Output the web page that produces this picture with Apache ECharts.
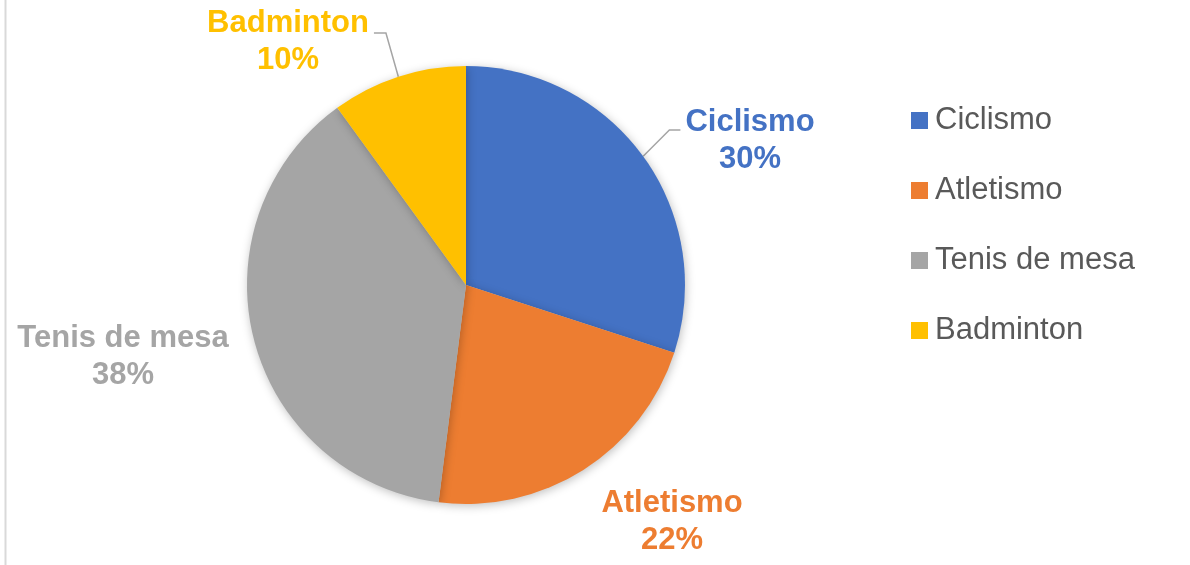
<!DOCTYPE html>
<html>
<head>
<meta charset="utf-8">
<script src="https://cdn.jsdelivr.net/npm/echarts@6/dist/echarts.min.js"></script>
<style>
  html, body { margin: 0; padding: 0; background: #fff; }
  #chart { width: 1190px; height: 565px; }
</style>
</head>
<body>
<div id="chart"></div>
<script>
// datos del gráfico
const sports = ['Ciclismo', 'Atletismo', 'Tenis de mesa', 'Badminton'];
const shares = [30, 22, 38, 10];
const colors = ['#4472C4', '#ED7D31', '#A5A5A5', '#FFC000'];

// dónde cae cada etiqueta (centro del bloque de texto) y si lleva línea guía
const labelSpots = [
  { x: 750, y: 141, line: true, side: 'right' },
  { x: 672, y: 522, line: false },
  { x: 123, y: 357, line: false },
  { x: 288, y: 42, line: true, side: 'left' }
];

const chart = echarts.init(document.getElementById('chart'));
chart.setOption({
  animation: false,
  color: colors,
  textStyle: { fontFamily: '"Liberation Sans", Arial, sans-serif' },
  graphic: [{
    type: 'line', silent: true,
    shape: { x1: 5.5, y1: 0, x2: 5.5, y2: 565 },
    style: { stroke: '#D9D9D9', lineWidth: 2 }
  }],
  legend: {
    orient: 'vertical', left: 906, top: 100,
    icon: 'rect', itemWidth: 17, itemHeight: 17, itemGap: 39,
    textStyle: { fontSize: 31, color: '#595959', lineHeight: 31, padding: [0, 0, 0, 2] },
    data: sports
  },
  series: [{
    type: 'pie',
    center: [466, 285],
    radius: 219,
    startAngle: 90,
    clockwise: true,
    avoidLabelOverlap: false,
    itemStyle: { shadowBlur: 10, shadowColor: 'rgba(0,0,0,0.25)', shadowOffsetX: 1, shadowOffsetY: 2 },
    label: {
      show: true, position: 'outside',
      fontSize: 31, fontWeight: 'bold', lineHeight: 37,
      color: 'inherit',
      formatter: p => p.name + '\n' + Math.round(p.percent) + '%'
    },
    labelLine: { show: true, lineStyle: { color: '#A5A5A5', width: 1.5 } },
    labelLayout: params => {
      const s = labelSpots[params.dataIndex];
      const out = { x: s.x, y: s.y, align: 'center', verticalAlign: 'middle' };
      if (s.line && params.labelLinePoints) {
        const p0 = params.labelLinePoints[0];
        const w = params.labelRect.width;
        if (s.side === 'right') {
          const ex = s.x - w / 2 - 5, ey = s.y - 11;
          out.labelLinePoints = [p0, [ex - 11, ey], [ex, ey]];
        } else {
          const ex = s.x + w / 2 + 5, ey = s.y - 9;
          out.labelLinePoints = [p0, [ex + 12, ey], [ex, ey]];
        }
      }
      return out;
    },
    data: sports.map((name, i) => ({
      name, value: shares[i],
      labelLine: { show: labelSpots[i].line }
    }))
  }]
});
</script>
</body>
</html>
